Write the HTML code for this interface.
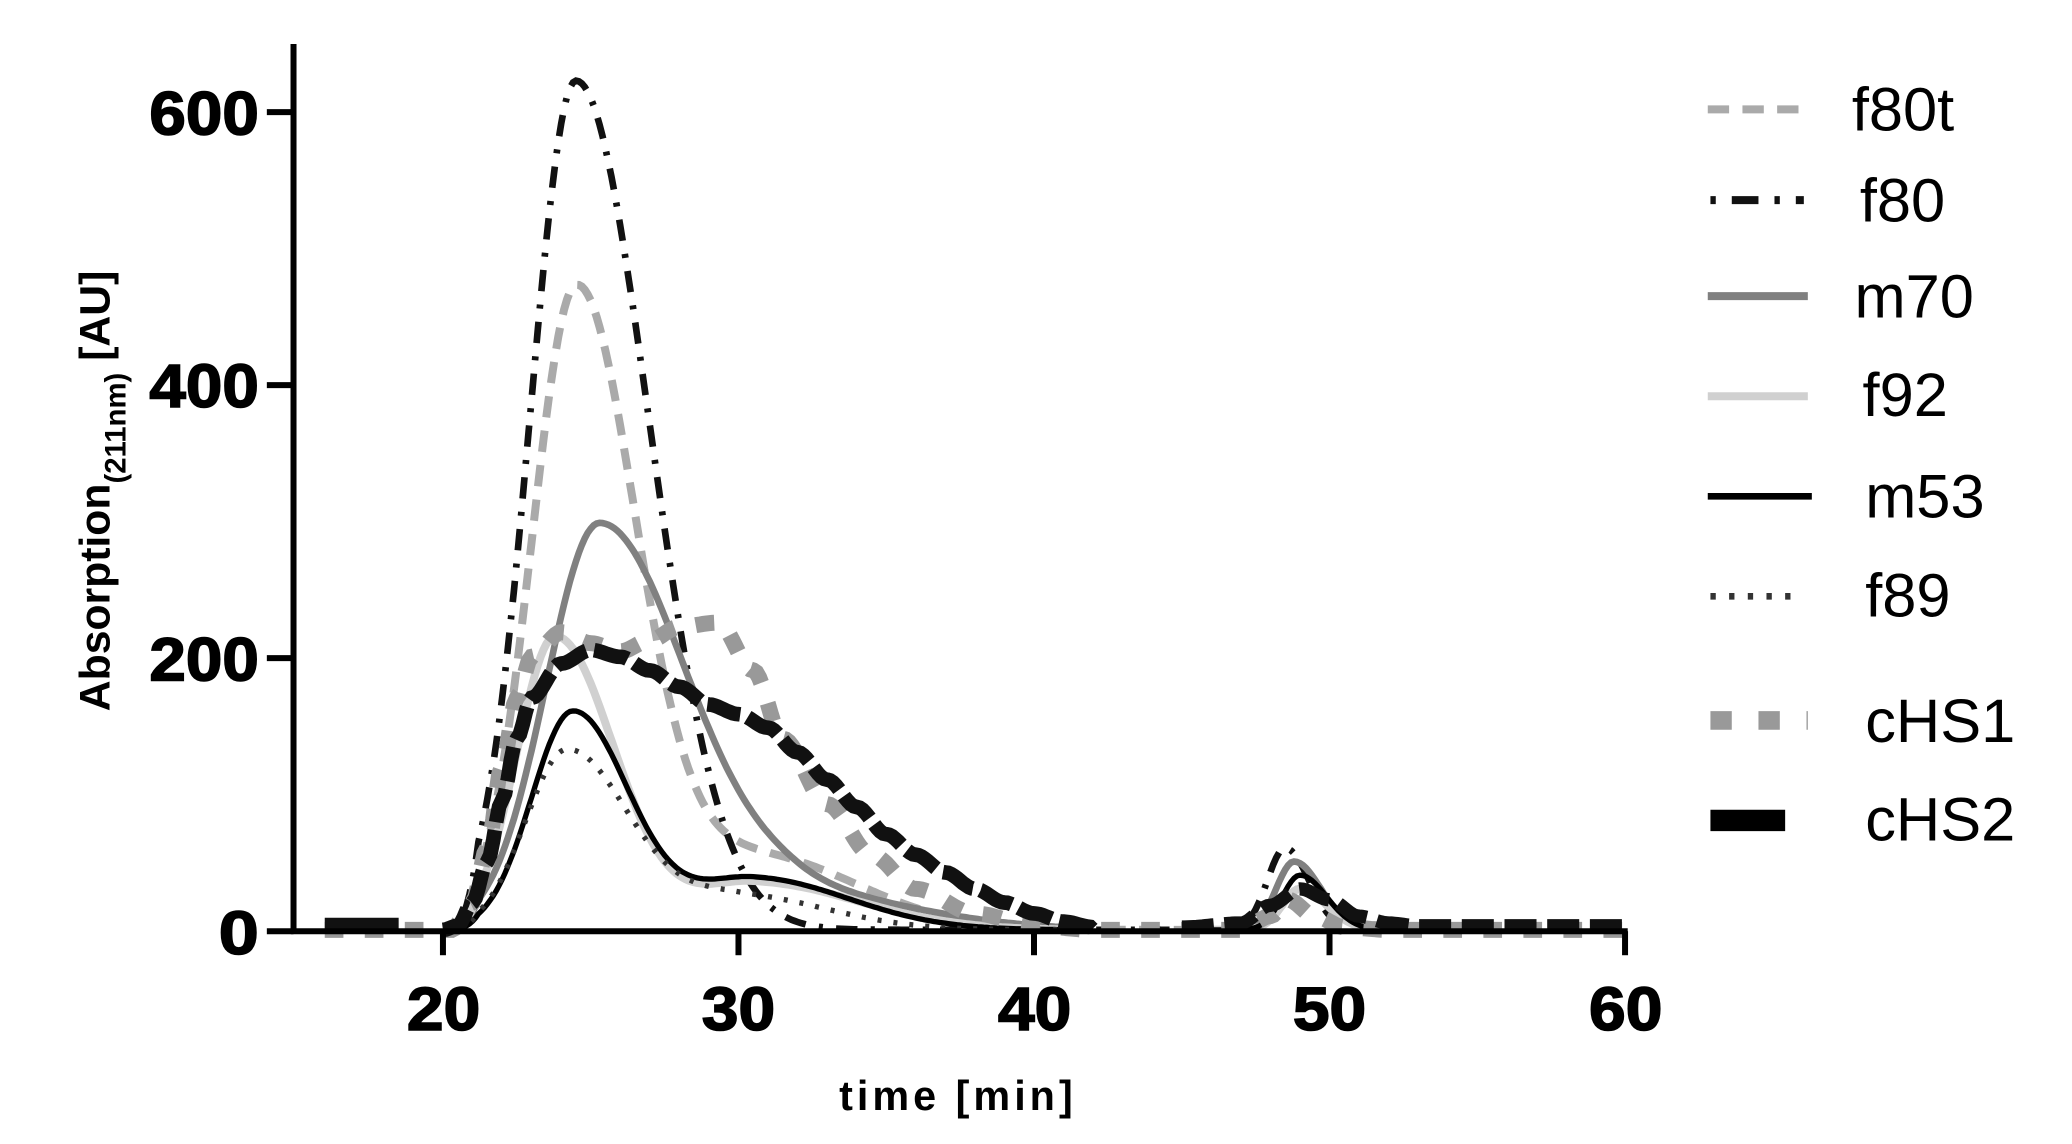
<!DOCTYPE html>
<html><head><meta charset="utf-8"><style>
html,body{margin:0;padding:0;background:#fff;}
svg{display:block;}
text{font-family:"Liberation Sans",Arial,sans-serif;}
</style></head><body>
<svg id="s" width="2072" height="1144" viewBox="0 0 1553 857.5" preserveAspectRatio="none" xmlns="http://www.w3.org/2000/svg">
<g id="curves"></g>
<g stroke="#000" stroke-width="4.5" fill="none">
<line x1="220" y1="33" x2="220" y2="700"/>
<line x1="218" y1="698" x2="1220" y2="698"/>
<line x1="200" y1="698" x2="220" y2="698"/>
<line x1="200" y1="493.3" x2="220" y2="493.3"/>
<line x1="200" y1="288.7" x2="220" y2="288.7"/>
<line x1="200" y1="84" x2="220" y2="84"/>
<line x1="332" y1="698" x2="332" y2="716"/>
<line x1="553.5" y1="698" x2="553.5" y2="716"/>
<line x1="775" y1="698" x2="775" y2="716"/>
<line x1="996.5" y1="698" x2="996.5" y2="716"/>
<line x1="1218" y1="698" x2="1218" y2="716"/>
</g>
<g font-weight="bold" font-size="46" text-anchor="end" stroke="#000" stroke-width="1.2">
<text x="194" y="715" textLength="30" lengthAdjust="spacingAndGlyphs">0</text>
<text x="194" y="510" textLength="82" lengthAdjust="spacingAndGlyphs">200</text>
<text x="194" y="305" textLength="82" lengthAdjust="spacingAndGlyphs">400</text>
<text x="194" y="101" textLength="82" lengthAdjust="spacingAndGlyphs">600</text>
</g>
<g font-weight="bold" font-size="46" stroke="#000" stroke-width="1.2">
<text x="305" y="772" textLength="55" lengthAdjust="spacingAndGlyphs">20</text>
<text x="526" y="772" textLength="55" lengthAdjust="spacingAndGlyphs">30</text>
<text x="748" y="772" textLength="55" lengthAdjust="spacingAndGlyphs">40</text>
<text x="969" y="772" textLength="55" lengthAdjust="spacingAndGlyphs">50</text>
<text x="1191" y="772" textLength="55" lengthAdjust="spacingAndGlyphs">60</text>
</g>
<text x="718" y="832" font-weight="bold" font-size="31" text-anchor="middle" letter-spacing="3">time [min]</text>
<text transform="translate(82,368) rotate(-90)" font-weight="bold" font-size="32" text-anchor="middle">Absorption<tspan font-size="22" dy="12">(211nm)</tspan><tspan dy="-12"> [AU]</tspan></text>
<g font-size="46" fill="#000">
<text x="1388" y="98">f80t</text>
<text x="1394" y="166">f80</text>
<text x="1390" y="238">m70</text>
<text x="1396" y="312">f92</text>
<text x="1398" y="388">m53</text>
<text x="1398" y="462">f89</text>
<text x="1398" y="556">cHS1</text>
<text x="1398" y="630">cHS2</text>
</g>
<g fill="none">
<line x1="1280" y1="82" x2="1352" y2="82" stroke="#aaa" stroke-width="6" stroke-dasharray="16,10"/>
<line x1="1282" y1="150" x2="1352" y2="150" stroke="#111" stroke-width="6" stroke-dasharray="4,12,20,12"/>
<line x1="1280" y1="222" x2="1355" y2="222" stroke="#808080" stroke-width="6"/>
<line x1="1280" y1="297" x2="1355" y2="297" stroke="#d0d0d0" stroke-width="6"/>
<line x1="1280" y1="372" x2="1358" y2="372" stroke="#000" stroke-width="5"/>
<line x1="1282" y1="447" x2="1352" y2="447" stroke="#333" stroke-width="5" stroke-dasharray="4,10"/>
<line x1="1282" y1="540" x2="1355" y2="540" stroke="#999" stroke-width="14" stroke-dasharray="16,20"/>
<line x1="1282" y1="615" x2="1338" y2="615" stroke="#000" stroke-width="16"/>
</g>
</svg>
<script>
function X(t){return 332+(t-20)*22.15;}
function Y(v){return 698-v*1.0233;}
function ag(t,a,m,sl,sr){var s=t<m?sl:sr;return a*Math.exp(-0.5*((t-m)/s)*((t-m)/s));}
function onset(t){return t<20.4?0:(t<21.2?(t-20.4)/0.8:1);}
function interp(P){return function(t){for(var i=0;i<P.length-1;i++){if(t>=P[i][0]&&t<=P[i+1][0]){var u=(t-P[i][0])/(P[i+1][0]-P[i][0]);u=u*u*(3-2*u);return P[i][1]+(P[i+1][1]-P[i][1])*u;}}return 0;};}
var cHS1=interp([[16,0],[20.3,0],[21,20],[21.5,60],[22,120],[22.5,170],[23,200],[24,218],[25,210],[26,204],[27,212],[28,222],[29.3,225],[30.5,190],[31.5,140],[33,92],[34.5,55],[36,30],[38,12],[40,3],[42,0],[47,0],[48,10],[48.6,22],[49.5,10],[50.5,2],[52,0],[60,0]]);
var cHS2=interp([[20,0],[20.5,3],[21,20],[21.5,50],[22,95],[22.5,140],[23,170],[24,195],[25,205],[26,200],[27,190],[28,178],[29,165],[30,158],[31,148],[32,130],[33,110],[34,90],[35,70],[36,55],[37,42],[38,30],[39,20],[40,12],[41,6],[42,2]]);
var cHS2b=interp([[45,2],[47,5],[48,18],[49,30],[50,22],[51,10],[52,5],[53,3],[60,3]]);
var S=[
 {c:"#aaa",w:6,d:"16,10",f:function(t){return onset(t)*(ag(t,465,24.5,1.5,2.0)+ag(t,55,30.5,3,3.5))+ag(t,30,49,0.6,0.9);},a:20.5,b:52},
 {c:"#111",w:5,d:"3,10,16,10",f:function(t){return onset(t)*ag(t,622,24.5,1.55,2.45)+ag(t,60,48.5,0.6,0.8);},a:20.5,b:52},
 {c:"#808080",w:5,d:"",f:function(t){return onset(t)*(ag(t,298,25.3,1.8,3.0)+ag(t,25,32,2,4));}, a:20.5,b:42},
 {c:"#808080",w:5,d:"",f:function(t){return ag(t,50,48.8,0.6,0.9);},a:46,b:52},
 {c:"#d0d0d0",w:6,d:"",f:function(t){return onset(t)*(ag(t,215,23.8,1.3,2.0)+ag(t,35,30.5,2,3.5));},a:20.5,b:42},
 {c:"#d0d0d0",w:6,d:"",f:function(t){return ag(t,30,49,0.6,0.9);},a:46,b:52},
 {c:"#000",w:4,d:"",f:function(t){return onset(t)*(ag(t,160,24.4,1.4,1.9)+ag(t,38,30.5,2,3.2));},a:20.3,b:42},
 {c:"#000",w:4,d:"",f:function(t){return ag(t,40,49,0.6,0.9);},a:46,b:53},
 {c:"#333",w:4,d:"3,9",f:function(t){return onset(t)*(ag(t,132,24.2,1.4,2.1)+ag(t,25,30,2,3));},a:20.5,b:42},
 {c:"#999",w:12,d:"14,16",f:cHS1,a:16,b:60},
 {c:"#111",w:12,d:"",f:function(t){return 3;},a:16,b:18.5},
 {c:"#111",w:11,d:"26,6",f:cHS2,a:20,b:42},
 {c:"#111",w:10,d:"24,8",f:cHS2b,a:45,b:60}
];
var g=document.getElementById("curves"),h="";
S.forEach(function(s){var p="";for(var t=s.a;t<=s.b+1e-9;t+=0.1){p+=(p?"L":"M")+X(t).toFixed(1)+","+Y(Math.max(0,s.f(t))+1).toFixed(1);}
h+='<path d="'+p+'" fill="none" stroke="'+s.c+'" stroke-width="'+s.w+'"'+(s.d?' stroke-dasharray="'+s.d+'"':'')+'/>';});
g.innerHTML=h;
</script>
</body></html>
